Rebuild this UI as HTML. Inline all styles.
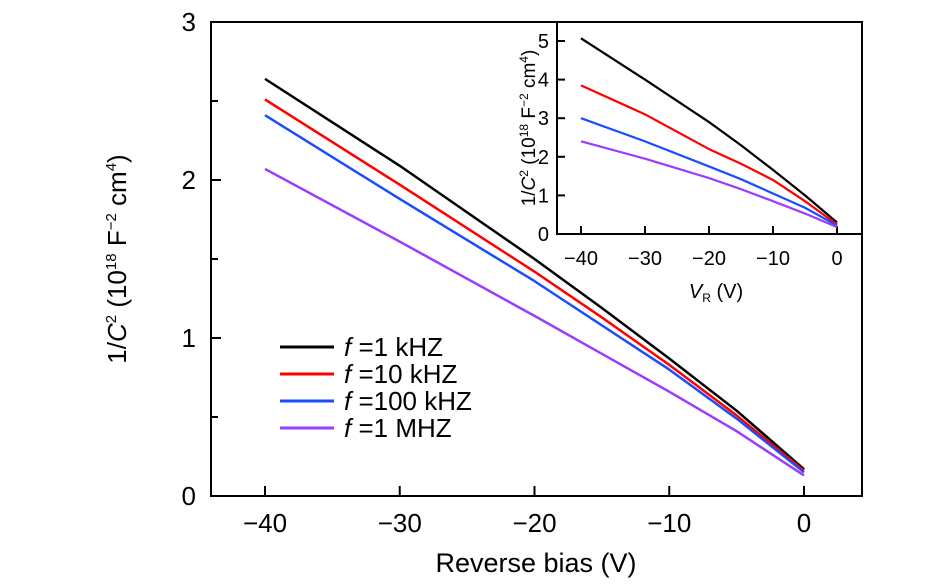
<!DOCTYPE html>
<html><head><meta charset="utf-8"><style>
html,body{margin:0;padding:0;background:#fff;}
svg{display:block;font-family:"Liberation Sans",sans-serif;}
</style></head><body>
<svg id="chart" width="945" height="585" viewBox="0 0 945 585"></svg>
<script>
const vbias = [-40, -30, -20, -15, -10, -5, 0];
const s1k = [2.64, 2.09, 1.50, 1.19, 0.87, 0.54, 0.17];
const s10k = [2.51, 1.97, 1.42, 1.13, 0.83, 0.51, 0.16];
const s100k = [2.41, 1.88, 1.36, 1.08, 0.80, 0.49, 0.15];
const s1M = [2.07, 1.61, 1.14, 0.90, 0.66, 0.41, 0.13];
const insetV = [-40, -30, -20, -15, -10, -5, 0];
const in1k = [5.07, 4.0, 2.9, 2.3, 1.66, 1.0, 0.3];
const in10k = [3.85, 3.1, 2.2, 1.82, 1.4, 0.85, 0.25];
const in100k = [3.0, 2.4, 1.75, 1.42, 1.05, 0.68, 0.22];
const in1M = [2.4, 1.95, 1.45, 1.16, 0.85, 0.53, 0.18];
const xTicks = [-40, -30, -20, -10, 0];
const yTicks = [0, 1, 2, 3];
const yMinor = [0.5, 1.5, 2.5];
const inYTicks = [0, 1, 2, 3, 4, 5];
const legendLabels = ["1 kHZ", "10 kHZ", "100 kHZ", "1 MHZ"];
const colors = ["#000000", "#ff0000", "#1a4dff", "#9b3dff"];

const NS = "http://www.w3.org/2000/svg";
const svg = document.getElementById("chart");
function mk(tag, attrs, parent) {
  const e = document.createElementNS(NS, tag);
  for (const k in attrs) e.setAttribute(k, attrs[k]);
  (parent || svg).appendChild(e);
  return e;
}
const X = v => 804 + v * 13.475;
const Y = v => 496 - v * 158;
const IX = v => 837 + v * 6.4;
const IY = v => 234 - v * 38.6;

const frame = mk("rect", {x: 211, y: 22, width: 651, height: 474, fill: "none", stroke: "#000", "stroke-width": 2});



xTicks.forEach(t => {
  const l = mk("line", {x1: X(t), x2: X(t), y1: 496, y2: 486, stroke: "#000", "stroke-width": 2});
  
  
  const tx = mk("text", {x: X(t), y: 532, "text-anchor": "middle", "font-size": 26});
  tx.textContent = (t < 0 ? "\u2212" + Math.abs(t) : t);
  
  
});
yTicks.forEach(t => {
  const l = mk("line", {x1: 211, x2: 221, y1: Y(t), y2: Y(t), stroke: "#000", "stroke-width": 2});
  
  
  const tx = mk("text", {x: 196, y: Y(t) + 9, "text-anchor": "end", "font-size": 26});
  tx.textContent = t;
  
  
});
yMinor.forEach(t => {
  const l = mk("line", {x1: 211, x2: 218, y1: Y(t), y2: Y(t), stroke: "#000", "stroke-width": 2});
  
  
});
const xt = mk("text", {x: 536, y: 572, "text-anchor": "middle", "font-size": 27});
xt.textContent = "Reverse bias (V)";


const yt = mk("text", {transform: "translate(126,259) rotate(-90)", "text-anchor": "middle", "font-size": 26});
yt.innerHTML = '1/<tspan font-style="italic">C</tspan><tspan font-size="15" dy="-10">2</tspan><tspan dy="10"> (10</tspan><tspan font-size="15" dy="-10">18</tspan><tspan dy="10"> F</tspan><tspan font-size="15" dy="-10">\u22122</tspan><tspan dy="10"> cm</tspan><tspan font-size="15" dy="-10">4</tspan><tspan dy="10">)</tspan>';



const mainSeries = [s1k, s10k, s100k, s1M];
const names = ["1khz", "10khz", "100khz", "1mhz"];
mainSeries.forEach((s, i) => {
  const p = mk("polyline", {points: vbias.map((v, j) => X(v) + "," + Y(s[j])).join(" "), fill: "none", stroke: colors[i], "stroke-width": 2.5, "stroke-linejoin": "round"});
  
  
});

legendLabels.forEach((lab, i) => {
  const y = 347 + i * 27;
  const l = mk("line", {x1: 280, x2: 334, y1: y, y2: y, stroke: colors[i], "stroke-width": 3});
  
  
  const t = mk("text", {x: 344, y: y + 9, "font-size": 26});
  t.innerHTML = '<tspan font-style="italic">f</tspan> =' + lab;
  
  
});

const ibg = mk("rect", {x: 557, y: 22, width: 305, height: 212, fill: "#fff", stroke: "#000", "stroke-width": 2});


insetV.filter(t => t % 10 === 0).forEach(t => {
  const l = mk("line", {x1: IX(t), x2: IX(t), y1: 234, y2: 226, stroke: "#000", "stroke-width": 2});
  
  
  const tx = mk("text", {x: IX(t), y: 265, "text-anchor": "middle", "font-size": 20});
  tx.textContent = (t < 0 ? "\u2212" + Math.abs(t) : t);
  
  
});
inYTicks.forEach(t => {
  const l = mk("line", {x1: 557, x2: 565, y1: IY(t), y2: IY(t), stroke: "#000", "stroke-width": 2});
  
  
  const tx = mk("text", {x: 549, y: IY(t) + 7, "text-anchor": "end", "font-size": 20});
  tx.textContent = t;
  
  
});
const ixt = mk("text", {x: 716, y: 298, "text-anchor": "middle", "font-size": 20});
ixt.innerHTML = '<tspan font-style="italic">V</tspan><tspan font-size="12" dy="4">R</tspan><tspan dy="-4"> (V)</tspan>';


const iyt = mk("text", {transform: "translate(535,128) rotate(-90)", "text-anchor": "middle", "font-size": 19});
iyt.innerHTML = '1/<tspan font-style="italic">C</tspan><tspan font-size="12" dy="-7">2</tspan><tspan dy="7"> (10</tspan><tspan font-size="12" dy="-7">18</tspan><tspan dy="7"> F</tspan><tspan font-size="12" dy="-7">\u22122</tspan><tspan dy="7"> cm</tspan><tspan font-size="12" dy="-7">4</tspan><tspan dy="7">)</tspan>';



const insetSeries = [in1k, in10k, in100k, in1M];
insetSeries.forEach((s, i) => {
  const p = mk("polyline", {points: insetV.map((v, j) => IX(v) + "," + IY(s[j])).join(" "), fill: "none", stroke: colors[i], "stroke-width": 2.2, "stroke-linejoin": "round"});
  
  
});
</script>
</body></html>
